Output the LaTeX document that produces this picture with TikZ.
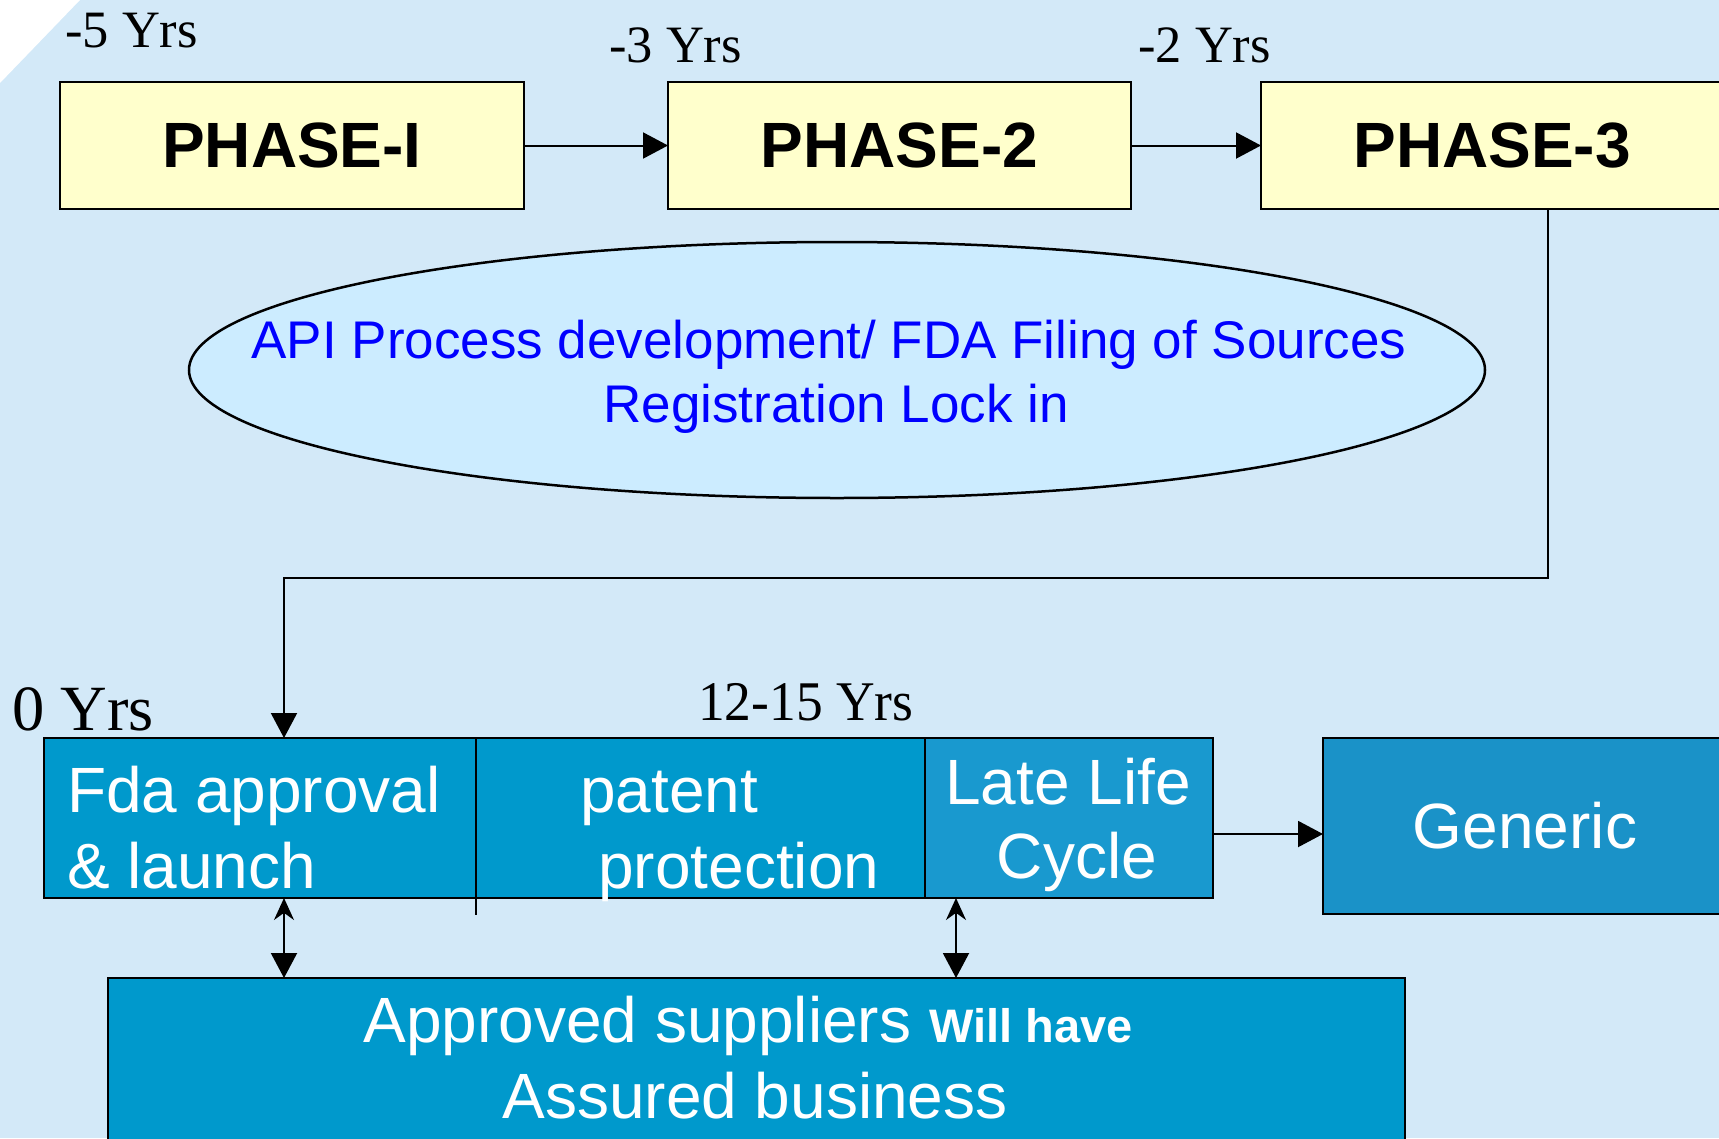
\documentclass[tikz,border=0pt]{standalone}
\usepackage{fontspec}
\setmainfont{Liberation Serif}
\newfontfamily\arialf{Liberation Sans}
\usetikzlibrary{arrows.meta,shapes.geometric}
\definecolor{bgc}{HTML}{D3E9F8}
\definecolor{phasey}{HTML}{FFFFCC}
\definecolor{ellf}{HTML}{CCECFF}
\definecolor{blueA}{HTML}{0099CC}
\definecolor{blueB}{HTML}{1999CF}
\definecolor{blueC}{HTML}{1A92C8}
\definecolor{elltxt}{HTML}{0000FF}
\begin{document}
\begin{tikzpicture}[x=1pt,y=-1pt,
  phasebox/.style={draw=black, line width=2.5pt, fill=phasey, inner sep=0pt, outer sep=0pt,
    minimum height=127pt, font=\arialf\bfseries\fontsize{64}{77}\selectfont},
  bluebox/.style={draw=black, line width=2.5pt, inner sep=0pt, outer sep=0pt},
  whitet/.style={text=white, inner sep=0pt, font=\arialf\fontsize{64}{77}\selectfont},
  ellt/.style={text=elltxt, inner sep=0pt, font=\arialf\fontsize{53}{64}\selectfont},
  yrs/.style={inner sep=0pt, font=\fontsize{52.5}{63}\selectfont},
  conn/.style={line width=2pt, -{Triangle[length=25pt,width=26pt]}},
  dbl/.style={line width=2pt, {Stealth[length=22pt,width=20pt]}-{Triangle[length=25pt,width=26pt]}}
]
\useasboundingbox (0,0) rectangle (1719,1138);
\fill[bgc] (0,0) rectangle (1719,1138);
\fill[white] (0,0) -- (80,0) -- (0,83) -- cycle;

% year labels
\node[yrs, anchor=base west] (y5) at (65,47) {-5 Yrs};
\node[yrs, anchor=base west] (y3) at (609,62) {-3 Yrs};
\node[yrs, anchor=base west] (y2) at (1138,62) {-2 Yrs};
\node[inner sep=0pt, anchor=base west, font=\fontsize{64.5}{77}\selectfont] (y0) at (12,730) {0 Yrs};
\node[inner sep=0pt, anchor=base west, font=\fontsize{56}{67}\selectfont] (y12) at (698,720) {\scalebox{0.955}[1]{12-15 Yrs}};

% phases
\node[phasebox, minimum width=464pt] (p1) at (292,145.5) {PHASE-I};
\node[phasebox, minimum width=463pt] (p2) at (899.5,145.5) {PHASE-2};
\node[phasebox, minimum width=462pt] (p3) at (1492,145.5) {PHASE-3};
\draw[conn] (p1.east) -- (p2.west);
\draw[conn] (p2.east) -- (p3.west);

% ellipse
\node[ellipse, draw=black, line width=2.5pt, fill=ellf, inner sep=0pt,
  minimum width=1296pt, minimum height=256pt] (ell) at (837,370) {};
\node[ellt, anchor=base] (e1) at (829,358) {API Process development/ FDA Filing of Sources};
\node[ellt, anchor=base] (e2) at (836,422) {Registration Lock in};

% bottom boxes
\node[bluebox, fill=blueA, minimum width=449pt, minimum height=160pt] (pat) at (700.5,818) {};
\node[bluebox, fill=blueA, minimum width=432pt, minimum height=160pt] (fda) at (260,818) {};
\node[bluebox, fill=blueB, minimum width=288pt, minimum height=160pt] (late) at (1069,818) {};
\node[bluebox, fill=blueC, minimum width=404pt, minimum height=176pt,
  text=white, font=\arialf\fontsize{64}{77}\selectfont] (gen) at (1525,826) {Generic};
\node[bluebox, fill=blueA, minimum width=1297pt, minimum height=182pt] (appr) at (756.5,1069) {};
\draw[line width=2pt] (pat.north west) -- ++(0,177);

% texts in boxes
\node[whitet, anchor=base west] (f1) at (67,812) {Fda approval};
\node[whitet, anchor=base west] (f2) at (67,888) {\& launch};
\node[whitet, anchor=base west] (pt1) at (580,812) {patent};
\node[whitet, anchor=base west] (pt2) at (598,888) {protection};
\node[whitet, anchor=base] (l1) at (1068,804) {Late Life};
\node[whitet, anchor=base] (l2) at (1077,878) {Cycle};
\node[whitet, anchor=base] (a1) at (748,1042) {Approved suppliers {\bfseries\fontsize{47}{56}\selectfont Will have}};
\node[whitet, anchor=base] (a2) at (755,1118) {Assured business};

% connectors
\coordinate (k1) at (1548,578);
\coordinate (k2) at (284,578);
\coordinate (k3) at (956,578);
\coordinate (ly) at (0,834);
\draw[conn] (k1 |- p3.south) -- (k1) -- (k2) -- (k2 |- fda.north);
\draw[conn] (late.east |- ly) -- (gen.west |- ly);
\draw[dbl] (k2 |- fda.south) -- (k2 |- appr.north);
\draw[dbl] (k3 |- late.south) -- (k3 |- appr.north);
\end{tikzpicture}
\end{document}
